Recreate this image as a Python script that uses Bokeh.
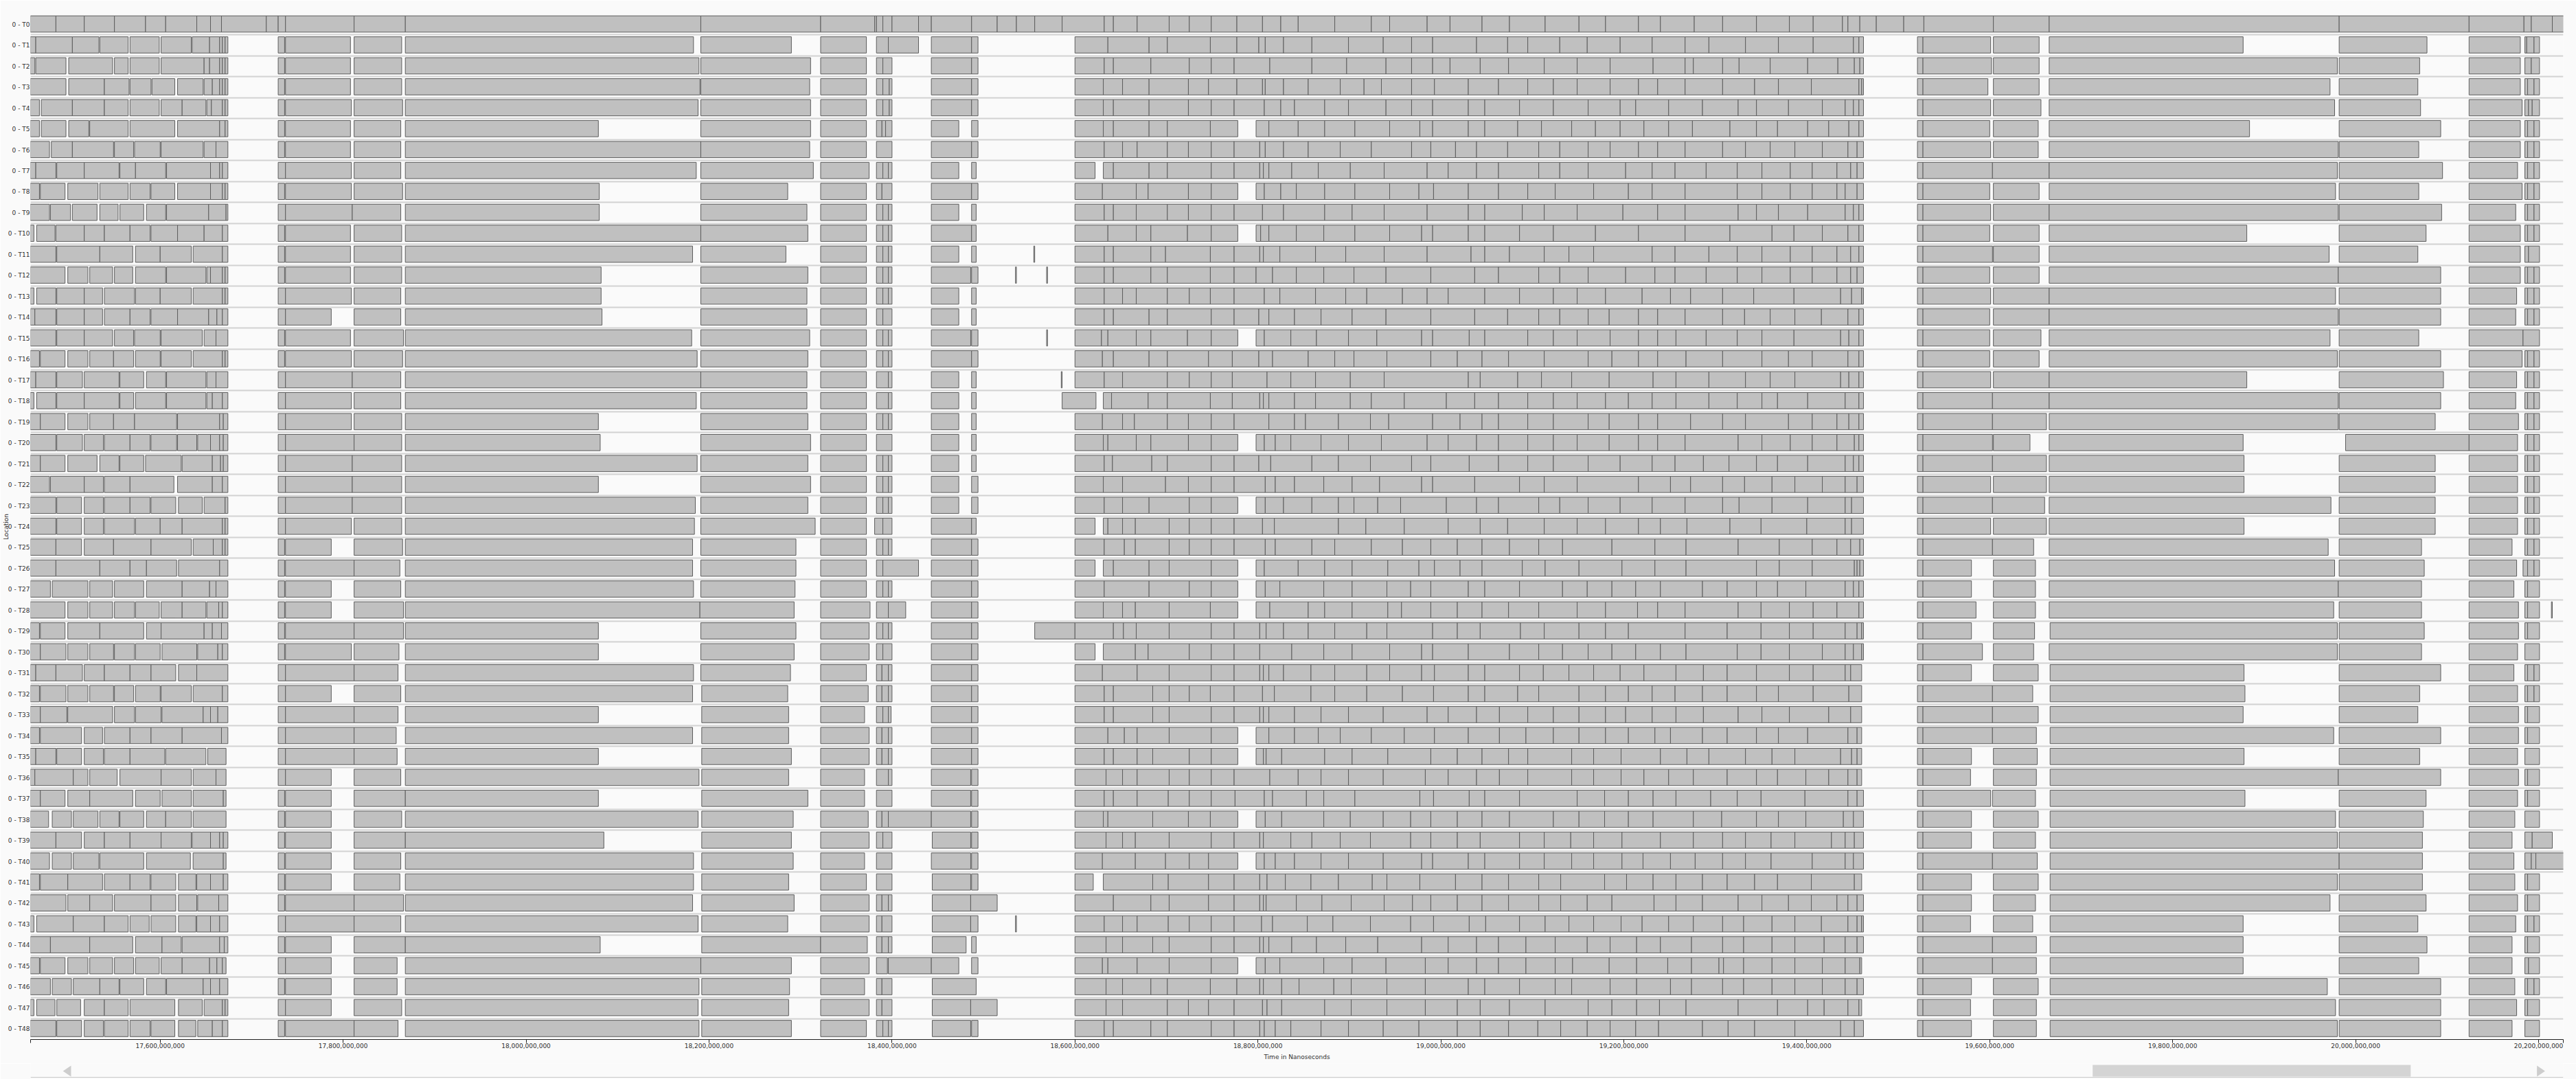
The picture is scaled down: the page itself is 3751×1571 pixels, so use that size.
from bokeh.plotting import figure
from bokeh.models import Range1d, FixedTicker, NumeralTickFormatter, ColumnDataSource
from bokeh.layouts import column
from bokeh.embed import file_html
from bokeh.resources import INLINE

# Each row: list of runs; each run is a list of boundaries (millions of ns);
# consecutive boundaries in a run form adjacent bars.
T0 = [[17458,17486,17517,17550,17584,17606,17640,17655,17667,17716,17729,17737,17812,17868,18191,18322,18381,18383,18390,18400,18429,18443,18487,18515,18536,18556,18586,18632,18642,18668,18703,18725,18749,18777,18805,18825,18844,18884,18924,18944,18985,19010,19045,19075,19114,19151,19180,19216,19240,19277,19308,19345,19381,19407,19439,19445,19458,19476,19506,19528,19604,19665,19982,20124,20184,20192,20215,20229]]
T1 = [[17458,17464,17504,17533],[17534,17565],[17567,17599],[17601,17634],[17635,17654,17665,17668,17671,17674],
 [17729,17736],[17737,17808],[17812,17864],[17868,18183],[18191,18290],[18322,18372],[18383,18396,18429],[18443,18487,18494],
 [18600,18636,18681,18701,18748,18777,18801,18808,18828,18859,18899,18937,18968,18991,19039,19073,19095,19130,19160,19196,19231,19267,19293,19333,19369,19407,19451,19457,19462],
 [19521,19527,19601],[19604,19654],[19665,19877],[19982,20078],[20124,20180],[20185,20187,20195,20201]]
T2 = [[17458,17463],[17464,17497],[17500,17548],[17550,17565],[17567,17599],[17601,17648,17654,17665,17668,17671,17674],
 [17729,17736],[17737,17808],[17812,17864],[17868,18189],[18191,18311],[18322,18372],[18383,18390,18400],[18443,18487,18494],
 [18600,18632,18642,18683,18725,18749,18774,18813,18859,18897,18940,18968,18991,19010,19043,19074,19113,19149,19185,19232,19267,19276,19308,19326,19360,19401,19434,19452,19458,19462],
 [19521,19527,19602],[19604,19654],[19665,19980],[19982,20070],[20124,20180],[20185,20192,20201]]
T3 = [[17458,17497],[17500,17539,17566],[17567,17590],[17591,17616],[17619,17647],[17648,17657,17665,17668,17671,17674],
 [17729,17736],[17737,17808],[17812,17864],[17868,18190],[18191,18310],[18322,18372],[18383,18390,18397,18400],[18443,18487,18494],
 [18600,18631,18652,18681,18724,18746,18777,18805,18808,18828,18855,18890,18916,18935,18968,18993,19030,19063,19095,19123,19149,19185,19216,19237,19267,19308,19343,19369,19405,19457,19460,19462],
 [19521,19527,19598],[19604,19654],[19665,19972],[19982,20068],[20124,20180],[20185,20188,20195,20201]]
T4 = [[17458,17468],[17470,17504,17539,17565],[17567,17599],[17601,17624,17650],[17651,17656,17668,17671,17674],
 [17729,17736],[17737,17809],[17812,17865],[17868,18188],[18191,18311],[18322,18372],[18383,18390,18397,18400],[18443,18487,18494],
 [18600,18631,18642,18681,18724,18749,18774,18807,18825,18840,18873,18899,18940,18968,18991,19030,19048,19086,19123,19161,19196,19213,19249,19286,19325,19345,19380,19417,19442,19451,19457,19462],
 [19521,19527,19601],[19604,19656],[19665,19977],[19982,20071],[20124,20182],[20185,20189,20193,20201]]
T5 = [[17458,17468],[17470,17497],[17500,17522],[17523,17565],[17567,17616],[17619,17665,17671,17674],
 [17729,17736],[17737,17808],[17812,17863],[17868,18079],[18191,18311],[18322,18372],[18383,18389,18393,18400],[18443,18473],[18487,18494],
 [18600,18631,18642,18681,18701,18748,18778],
 [18798,18812,18844,18873,18906,18944,18977,18991,19030,19048,19084,19110,19143,19169,19196,19222,19249,19275,19316,19345,19368,19401,19424,19446,19457,19462],
 [19521,19527,19600],[19604,19653],[19665,19884],[19982,20093],[20124,20180],[20185,20188,20195,20201]]
T6 = [[17458,17479],[17481,17504,17549],[17550,17571],[17572,17600],[17601,17647],[17648,17661,17674],
 [17729,17736],[17737,17808],[17812,17863],[17868,18191,18310],[18322,18372],[18383,18400],[18443,18487,18494],
 [18600,18632,18652,18668,18701,18724,18749,18774,18802,18808,18828,18855,18890,18924,18968,18989,19016,19039,19073,19107,19130,19161,19185,19216,19237,19267,19308,19333,19360,19387,19417,19445,19455,19462],
 [19521,19527,19601],[19604,19653],[19665,19981],[19982,20069],[20124,20180],[20185,20188,20195,20201]]
T7 = [[17458,17464,17486],[17487,17517,17555],[17556,17573,17606],[17607,17655,17665,17668,17674],
 [17729,17737],[17737,17809],[17812,17863],[17868,18186],[18191,18314],[18322,18375],[18383,18390,18396,18400],[18443,18473],[18487,18492],
 [18600,18622],
 [18631,18642,18681,18701,18749,18774,18802,18806,18812,18837,18866,18901,18938,18985,19008,19039,19063,19107,19130,19161,19202,19231,19256,19290,19324,19351,19382,19406,19433,19448,19455,19462],
 [19521,19527,19603,19665,19980],[19982,20095],[20124,20177],[20185,20188,20195,20201]]
T8 = [[17458,17468],[17469,17496],[17499,17532],[17534,17565],[17567,17589],[17590,17616],[17619,17655,17668,17671,17674],
 [17729,17736],[17737,17809],[17812,17865],[17868,18080],[18191,18286],[18322,18372],[18383,18389,18400],[18443,18487,18494],
 [18600,18630,18667,18680,18724,18749,18778],
 [18798,18807,18825,18842,18873,18906,18944,18976,18992,19030,19063,19095,19125,19167,19205,19231,19267,19324,19351,19382,19406,19433,19442,19455,19462],
 [19521,19527,19600],[19604,19654],[19665,19978],[19982,20069],[20124,20182],[20185,20188,20195,20201]]
T9 = [[17458,17479],[17480,17502],[17504,17531],[17534,17554],[17556,17582],[17585,17606],[17607,17653,17672,17674],
 [17729,17737],[17737,17810,17863],[17868,18080],[18191,18307],[18322,18372],[18383,18390,18396,18400],[18443,18473],[18487,18492],
 [18600,18632,18642,18667,18701,18724,18749,18774,18805,18828,18873,18903,18938,18985,19030,19048,19089,19113,19149,19199,19237,19267,19325,19345,19369,19401,19442,19451,19457,19462],
 [19521,19527,19601],[19604,19665,19981],[19982,20094],[20124,20175],[20185,20188,20195,20201]]
T10 = [[17458,17462],[17465,17485],[17486,17517,17539,17567,17589],[17590,17619,17648,17668,17674],
 [17729,17736],[17737,17808],[17812,17864],[17868,18191,18308],[18322,18372],[18383,18390,18396,18400],[18443,18487,18492],
 [18600,18636,18667,18683,18723,18749,18778],
 [18798,18803,18812,18842,18872,18906,18944,18979,18991,19030,19048,19086,19123,19169,19216,19267,19316,19362,19386,19417,19445,19457,19462],
 [19521,19527,19600],[19604,19654],[19665,19881],[19982,20077],[20124,20180],[20185,20188,20195,20201]]
T11 = [[17458,17486],[17487,17534,17570],[17573,17600,17634],[17636,17668,17674],
 [17729,17736],[17737,17808],[17812,17864],[17868,18182],[18191,18284],[18322,18372],[18383,18390,18396,18400],[18443,18473],[18487,18492],[18555,18556],
 [18600,18632,18642,18683,18699,18748,18774,18802,18806,18824,18863,18896,18938,18985,19033,19048,19075,19113,19140,19167,19231,19256,19293,19324,19351,19382,19406,19433,19448,19457,19462],
 [19521,19527,19603],[19604,19654],[19665,19971],[19982,20068],[20124,20180],[20185,20189,20201]]
T12 = [[17458,17496],[17499,17521],[17523,17548],[17550,17570],[17573,17606],[17607,17650],[17651,17655,17668,17671,17674],
 [17729,17736],[17737,17808],[17812,17864],[17868,18082],[18191,18308],[18322,18372],[18383,18390,18396,18400],[18443,18486],[18487,18494],[18535,18536],[18569,18570],
 [18600,18632,18642,18683,18701,18748,18774,18798,18816,18842,18872,18905,18940,18989,19037,19063,19107,19130,19161,19202,19234,19256,19290,19324,19351,19382,19406,19433,19448,19455,19462],
 [19521,19527,19600],[19604,19654],[19665,19981,20093],[20124,20180],[20185,20188,20195,20201]]
T13 = [[17458,17462],[17465,17486],[17487,17517,17537],[17539,17572],[17573,17600,17634],[17636,17668,17671,17674],
 [17729,17737],[17737,17809],[17812,17863],[17868,18082],[18191,18307],[18322,18372],[18383,18390,18396,18400],[18443,18473],[18487,18492],
 [18600,18632,18652,18667,18701,18725,18748,18774,18807,18824,18863,18896,18919,18958,18985,19008,19048,19086,19123,19149,19180,19220,19251,19273,19308,19342,19386,19437,19449,19460,19462],
 [19521,19527,19601],[19604,19665,19978],[19982,20093],[20124,20176],[20185,20188,20195,20201]]
T14 = [[17458,17463,17486],[17487,17517,17537],[17539,17567,17589],[17590,17619,17653,17662,17668,17674],
 [17729,17737],[17737,17787],[17812,17863],[17868,18083],[18191,18307],[18322,18372],[18383,18390,18400],[18443,18473],[18487,18492],
 [18600,18632,18642,18681,18701,18749,18774,18801,18812,18840,18869,18903,18940,18989,19037,19073,19107,19130,19161,19184,19216,19237,19267,19308,19332,19360,19387,19416,19445,19457,19462],
 [19521,19527,19600],[19604,19665,19981],[19982,20093],[20124,20175],[20185,20188,20195,20201]]
T15 = [[17458,17486],[17487,17517,17548],[17550,17571],[17572,17600],[17601,17646],[17648,17661,17674],
 [17729,17736],[17737,17808],[17812,17866],[17868,18181],[18191,18310],[18322,18372],[18383,18390,18396,18400],[18443,18486],[18487,18494],[18569,18570],
 [18600,18629,18636,18667,18683,18723,18749,18778],
 [18798,18807,18836,18864,18899,18930,18979,18991,19031,19048,19095,19123,19149,19185,19216,19237,19257,19290,19324,19351,19386,19437,19446,19457,19462],
 [19521,19527,19600],[19604,19656],[19665,19972],[19982,20069],[20124,20183,20201]]
T16 = [[17458,17468],[17469,17496],[17499,17521],[17523,17549,17571],[17573,17600],[17601,17634],[17636,17668,17671,17674],
 [17729,17736],[17737,17809],[17812,17865],[17868,18187],[18191,18308],[18322,18372],[18383,18390,18396,18400],[18443,18487,18494],
 [18600,18630,18642,18681,18701,18746,18772,18801,18816,18855,18884,18905,18941,18989,19018,19045,19074,19113,19161,19187,19216,19237,19268,19308,19351,19380,19406,19445,19457,19462],
 [19521,19527,19600],[19604,19654],[19665,19980],[19982,20093],[20124,20182],[20185,20188,20195,20201]]
T17 = [[17458,17464,17486],[17487,17515],[17517,17555],[17556,17582],[17585,17606],[17607,17650],[17651,17661,17674],
 [17729,17737],[17737,17810,17863],[17868,18191,18307],[18322,18372],[18383,18396,18400],[18443,18473],[18487,18492],[18585,18586],
 [18600,18632,18652,18701,18725,18749,18772,18810,18836,18863,18901,18938,19030,19043,19084,19110,19143,19184,19232,19257,19293,19333,19360,19387,19437,19446,19457,19462],
 [19521,19527,19601],[19604,19665,19881],[19982,20096],[20124,20176],[20185,20188,20195,20201]]
T18 = [[17458,17462],[17465,17486],[17487,17517,17555],[17556,17571],[17573,17606],[17607,17650],[17651,17657,17668,17674],
 [17729,17737],[17737,17809],[17812,17863],[17868,18186],[18191,18307],[18322,18372],[18383,18396,18400],[18443,18473],[18487,18492],
 [18586,18623],
 [18631,18640,18680,18701,18748,18772,18802,18806,18812,18840,18863,18901,18924,18960,19006,19037,19063,19095,19123,19149,19180,19205,19231,19257,19293,19324,19351,19368,19401,19442,19457,19462],
 [19521,19527,19603,19665,19981],[19982,20093],[20124,20175],[20185,20188,20195,20201]]
T19 = [[17458,17469,17496],[17499,17521],[17523,17549,17572,17618],[17619,17665,17669,17674],
 [17729,17737],[17737,17809],[17812,17864],[17868,18079],[18191,18308],[18322,18372],[18383,18390,18396,18400],[18443,18473],[18487,18492],
 [18600,18630,18652,18665,18701,18724,18749,18774,18812,18840,18852,18888,18923,18943,18991,19021,19045,19063,19095,19123,19161,19184,19216,19237,19273,19308,19333,19380,19406,19433,19446,19457,19462],
 [19521,19527,19603,19662],[19665,19981],[19982,20087],[20124,20178],[20185,20188,20195,20201]]
T20 = [[17458,17486],[17487,17515],[17517,17538],[17539,17567,17589],[17590,17618],[17619,17640],[17641,17655,17665,17669,17674],
 [17729,17737],[17737,17812,17864],[17868,18081],[18191,18311],[18322,18372],[18383,18400],[18443,18473],[18487,18492],
 [18600,18631,18636,18667,18683,18724,18749,18778],
 [18798,18807,18819,18836,18869,18899,18935,18985,19008,19039,19063,19095,19123,19149,19184,19216,19237,19267,19325,19351,19382,19406,19433,19452,19457,19462],
 [19521,19527,19603],[19604,19644],[19665,19877],[19989,20124,20177],[20185,20188,20195,20201]]
T21 = [[17458,17469,17496],[17499,17531],[17534,17555],[17556,17582],[17584,17623],[17624,17657,17666,17669,17674],
 [17729,17737],[17737,17810,17864],[17868,18187],[18191,18308],[18322,18372],[18383,18390,18396,18400],[18443,18473],[18487,18492],
 [18600,18632,18641,18684,18701,18749,18774,18801,18814,18859,18888,18923,18968,18989,19031,19063,19095,19123,19161,19196,19231,19256,19287,19315,19345,19368,19401,19442,19451,19457,19462],
 [19521,19527,19603,19662],[19665,19878],[19982,20087],[20124,20177],[20185,20188,20195,20201]]
T22 = [[17458,17479],[17480,17517,17538],[17539,17567,17615],[17619,17657,17668,17674],
 [17729,17737],[17737,17810,17864],[17868,18079],[18191,18311],[18322,18372],[18383,18390,18396,18400],[18443,18473],[18487,18494],
 [18600,18631,18652,18699,18724,18749,18774,18808,18819,18840,18872,18903,18933,18979,18991,19037,19086,19113,19149,19216,19251,19273,19308,19332,19362,19387,19417,19442,19455,19462],
 [19521,19527,19601],[19604,19662],[19665,19878],[19982,20087],[20124,20177],[20185,20188,20195,20201]]
T23 = [[17458,17486],[17487,17514],[17517,17538],[17539,17567,17589],[17590,17617],[17620,17646],[17648,17671,17674],
 [17729,17737],[17737,17810,17864],[17868,18185],[18191,18308],[18322,18372],[18383,18390,18396,18400],[18443,18473],[18487,18494],
 [18600,18632,18652,18681,18725,18749,18778],
 [18798,18808,18828,18859,18888,18905,18931,18956,19006,19039,19063,19107,19130,19161,19196,19231,19267,19308,19326,19362,19401,19442,19449,19462],
 [19521,19527,19603,19660],[19665,19973],[19982,20087],[20124,20177],[20185,20188,20195,20201]]
T24 = [[17458,17486],[17487,17514],[17517,17538],[17539,17572],[17573,17600,17624,17668,17671,17674],
 [17729,17737],[17737,17809],[17812,17864],[17868,18184],[18191,18316],[18322,18372],[18381,18390,18400],[18443,18487,18492],
 [18600,18622],
 [18631,18636,18652,18666,18703,18725,18749,18774,18805,18818,18888,18918,18960,19008,19043,19073,19113,19149,19180,19216,19240,19269,19316,19350,19400,19442,19449,19462],
 [19521,19527,19601],[19604,19662],[19665,19878],[19982,20087],[20124,20177],[20185,20188,20195,20201]]
T25 = [[17458,17486,17514],[17517,17549,17590,17634],[17636,17658,17668,17671,17674],
 [17729,17736],[17737,17787],[17812,17865],[17868,18182],[18191,18295],[18322,18372],[18383,18390,18396,18400],[18443,18487,18494],
 [18600,18632,18654,18666,18703,18725,18749,18774,18808,18819,18859,18884,18924,18958,18989,19018,19045,19075,19107,19133,19187,19234,19268,19325,19370,19406,19433,19448,19458,19462],
 [19521,19527,19603,19648],[19665,19970],[19982,20072],[20124,20171],[20185,20188,20195,20201]]
T26 = [[17458,17486,17534,17567,17585,17618],[17620,17665,17674],
 [17729,17736],[17737,17812,17862],[17868,18182],[18191,18295],[18322,18372],[18383,18390,18429],[18443,18487,18494],
 [18600,18622],[18631,18642,18681,18703,18749,18778],
 [18798,18807,18844,18873,18903,18942,18976,18993,19021,19045,19089,19114,19151,19198,19234,19268,19345,19370,19406,19452,19455,19458,19462],
 [19521,19527,19580],[19604,19650],[19665,19977],[19982,20075],[20124,20176],[20183,20188,20195,20201]]
T27 = [[17458,17480],[17482,17521],[17523,17548],[17550,17582],[17585,17624,17654,17661,17674],
 [17729,17736],[17737,17787],[17812,17863],[17868,18183],[18191,18294],[18322,18372],[18383,18390,18396,18400],[18443,18487,18494],
 [18600,18632,18681,18725,18749,18778],
 [18798,18808,18824,18872,18903,18941,18967,18989,19030,19048,19086,19133,19160,19187,19213,19240,19286,19313,19345,19368,19399,19442,19451,19457,19462],
 [19521,19527,19580],[19604,19650],[19665,19981,20072],[20124,20173],[20185,20188,20201]]
T28 = [[17458,17496],[17499,17521],[17523,17548],[17550,17572],[17573,17599],[17601,17624,17650],[17651,17664,17668,17674],
 [17729,17736],[17737,17787],[17812,17866],[17868,18190,18293],[18322,18376],[18383,18396,18415],[18443,18487,18494],
 [18600,18631,18652,18666,18703,18748,18778],
 [18798,18813,18855,18873,18903,18942,18957,18989,19018,19045,19074,19107,19149,19180,19215,19237,19267,19325,19350,19381,19407,19433,19457,19462],
 [19521,19527,19585],[19604,19650],[19665,19976],[19982,20072],[20124,20178],[20185,20188,20201],[20214,20215]]
T29 = [[17458,17468],[17469,17496],[17499,17534,17582],[17585,17601,17648,17657,17667,17674],
 [17729,17736],[17737,17812,17866],[17868,18079],[18191,18295],[18322,18375],[18383,18390,18396,18400],[18443,18487,18494],
 [18556,18600,18642,18653,18667,18703,18749,18774,18802,18809,18828,18855,18884,18919,18941,18991,19018,19043,19087,19113,19151,19180,19205,19267,19313,19350,19381,19407,19442,19455,19460,19462],
 [19521,19527,19580],[19604,19649],[19666,19980],[19982,20075],[20124,20178],[20185,20188,20201]]
T30 = [[17458,17469,17497],[17499,17521],[17523,17549],[17550,17572],[17573,17600],[17602,17640],[17641,17663,17668,17674],
 [17729,17736],[17737,17809],[17812,17861],[17868,18079],[18191,18293],[18322,18375],[18383,18390,18400],[18443,18487,18494],
 [18600,18622],
 [18631,18666,18680,18725,18749,18774,18802,18837,18872,18903,18944,18979,18991,19030,19075,19107,19133,19161,19187,19213,19240,19268,19324,19350,19381,19417,19442,19451,19460,19462],
 [19521,19527,19592],[19604,19648],[19665,19980],[19982,20072],[20124,20177],[20185,20201]]
T31 = [[17458,17464,17486,17515],[17517,17539,17567,17590,17617],[17620,17640,17674],
 [17729,17737],[17737,17812,17860],[17868,18183],[18191,18289],[18322,18372],[18383,18389,18396,18400],[18443,18487,18494],
 [18600,18630,18668,18703,18749,18774,18802,18806,18812,18828,18858,18884,18919,18944,18979,18993,19030,19048,19086,19112,19140,19167,19196,19222,19257,19287,19313,19345,19381,19407,19442,19448,19460],
 [19521,19527,19580],[19604,19653],[19666,19878],[19982,20093],[20124,20173],[20185,20188,20195,20201]]
T32 = [[17458,17468],[17469,17497],[17499,17521],[17523,17549],[17550,17571],[17573,17600],[17601,17634],[17636,17668,17674],
 [17729,17737],[17737,17787],[17812,17863],[17868,18182],[18192,18286],[18322,18374],[18383,18389,18396,18400],[18443,18487,18494],
 [18600,18632,18642,18685,18703,18725,18748,18774,18805,18818,18858,18884,18919,18958,18992,19030,19048,19084,19107,19151,19180,19205,19231,19256,19286,19313,19345,19369,19407,19446,19460],
 [19521,19527,19603,19647],[19666,19879],[19982,20070],[20124,20177],[20185,20188,20195,20201]]
T33 = [[17458,17469,17498],[17499,17548],[17550,17572],[17573,17601],[17602,17647,17655,17663,17674],
 [17729,17737],[17737,17812,17860],[17868,18079],[18192,18287],[18322,18370],[18383,18390,18396,18399],[18443,18487,18494],
 [18600,18632,18642,18685,18703,18749,18774,18802,18806,18812,18840,18869,18899,18937,18985,19008,19039,19064,19095,19123,19151,19180,19202,19231,19257,19287,19325,19351,19381,19424,19448,19460],
 [19521,19527,19603,19653],[19666,19877],[19982,20068],[20124,20178],[20185,20188,20201]]
T34 = [[17458,17468],[17469,17514],[17517,17537],[17539,17567,17590,17624,17667,17674],
 [17729,17737],[17737,17812,17858],[17868,18182],[18192,18287],[18322,18375],[18383,18389,18396,18400],[18443,18487,18494],
 [18600,18636,18654,18668,18703,18749,18778],
 [18798,18812,18840,18866,18890,18924,18960,18993,19030,19064,19093,19123,19151,19180,19205,19234,19251,19286,19313,19345,19369,19401,19445,19455,19460],
 [19521,19527,19603,19651],[19666,19976],[19982,20093],[20124,20178],[20185,20188,20201]]
T35 = [[17458,17464,17486],[17487,17514],[17517,17538],[17539,17567,17605],[17606,17650],[17652,17672],
 [17729,17737],[17737,17812,17859],[17868,18079],[18192,18290],[18322,18375],[18383,18389,18396,18400],[18443,18487,18494],
 [18600,18632,18642,18668,18685,18725,18749,18778],
 [18798,18806,18809,18826,18873,18903,18942,18989,19018,19045,19074,19095,19143,19167,19197,19240,19269,19293,19333,19362,19387,19437,19449,19455,19460],
 [19521,19527,19580],[19604,19652],[19666,19878],[19982,20070],[20124,20177],[20185,20201]]
T36 = [[17458,17463,17505,17521],[17523,17553],[17556,17601,17634],[17636,17661,17672],
 [17729,17737],[17737,17787],[17812,17863],[17868,18189],[18192,18287],[18322,18370],[18383,18396,18400],[18443,18486],[18487,18494],
 [18600,18634,18652,18668,18703,18725,18749,18774,18813,18844,18869,18899,18937,18983,19008,19039,19064,19095,19143,19167,19197,19222,19249,19276,19313,19345,19368,19399,19424,19445,19455,19460],
 [19521,19527,19579],[19604,19651],[19666,19981,20093],[20124,20178],[20185,20188,20201]]
T37 = [[17458,17469,17496],[17499,17523,17570],[17573,17600],[17602,17634],[17636,17669,17672],
 [17729,17736],[17737,17787],[17812,17868,18079],[18192,18308],[18322,18370],[18383,18400],[18443,18486],[18487,18494],
 [18600,18632,18642,18668,18702,18725,18749,18775,18807,18816,18853,18872,18906,18977,18992,19031,19048,19086,19149,19179,19205,19232,19257,19295,19324,19350,19398,19445,19455,19462],
 [19521,19527,19601],[19603,19650],[19666,19879],[19982,20077],[20124,20177],[20185,20188,20201]]
T38 = [[17458,17478],[17482,17503],[17505,17532],[17534,17555],[17556,17582],[17585,17606,17634],[17636,17672],
 [17729,17736],[17737,17787],[17812,17864],[17868,18188],[18192,18292],[18322,18374],[18383,18389,18396,18443,18486],[18487,18494],
 [18600,18631,18636,18685,18724,18748,18778],
 [18798,18808,18826,18872,18901,18937,18967,18989,19018,19045,19075,19123,19151,19179,19205,19232,19276,19307,19345,19369,19399,19440,19451,19462],
 [19521,19527,19580],[19604,19653],[19666,19978],[19982,20074],[20124,20174],[20185,20201]]
T39 = [[17458,17486,17514],[17517,17539,17567,17601,17634],[17635,17655,17665,17669,17674],
 [17729,17736],[17737,17787],[17812,17868,18085],[18192,18290],[18322,18375],[18383,18390,18400],[18444,18486],[18487,18494],
 [18600,18634,18652,18666,18703,18749,18774,18802,18806,18836,18859,18890,18923,18967,18989,19018,19043,19086,19113,19142,19167,19198,19240,19276,19308,19333,19361,19387,19427,19442,19452,19462],
 [19521,19527,19580],[19604,19650],[19666,19980],[19982,20073],[20124,20171],[20185,20193,20215]]
T40 = [[17458,17479],[17482,17503],[17505,17533],[17534,17582],[17585,17633],[17636,17669,17672],
 [17729,17736],[17737,17787],[17812,17863],[17868,18183],[18192,18292],[18322,18370],[18383,18400],[18443,18486],[18487,18494],
 [18600,18630,18666,18699,18725,18746,18778],
 [18798,18807,18819,18840,18869,18899,18937,18979,18991,19030,19048,19086,19113,19143,19167,19198,19221,19251,19278,19308,19333,19361,19406,19442,19451,19462],
 [19521,19527,19603,19652],[19666,19982,20073],[20124,20173],[20185,20192,20197,20229]]
T41 = [[17458,17468],[17469,17499,17537],[17539,17567,17589],[17590,17617],[17620,17639],[17640,17655,17669,17674],
 [17729,17736],[17737,17787],[17812,17862],[17868,18183],[18192,18287],[18322,18372],[18383,18400],[18444,18486],[18487,18494],
 [18600,18620],
 [18631,18685,18702,18746,18774,18802,18810,18830,18858,18888,18925,18941,18977,19016,19045,19074,19107,19131,19179,19203,19232,19257,19286,19313,19343,19368,19405,19452,19460],
 [19521,19527,19580],[19604,19653],[19666,19980],[19982,20073],[20124,20174],[20185,20188,20201]]
T42 = [[17458,17497],[17499,17523,17548],[17550,17590,17617],[17620,17640],[17641,17664,17674],
 [17729,17736],[17737,17812,17866],[17868,18182],[18192,18293],[18322,18375],[18383,18389,18396,18400],[18444,18486,18515],
 [18600,18642,18683,18703,18746,18774,18802,18806,18809,18842,18870,18902,18938,18969,18989,19018,19045,19074,19107,19131,19160,19187,19233,19257,19286,19325,19351,19380,19405,19433,19445,19455,19462],
 [19521,19527,19580],[19604,19650],[19666,19972],[19982,20077],[20124,20177],[20185,20188,20201]]
T43 = [[17458,17462],[17465,17505,17539,17565],[17567,17588],[17590,17617],[17620,17639],[17640,17655,17665,17674],
 [17729,17737],[17737,17812,17863],[17868,18188],[18192,18286],[18322,18375],[18383,18389,18400],[18444,18486,18494],[18535,18536],
 [18600,18632,18652,18668,18702,18725,18749,18774,18804,18816,18854,18882,18923,18967,18992,19031,19049,19086,19114,19140,19167,19197,19220,19249,19276,19308,19331,19362,19387,19416,19445,19455,19460,19462],
 [19521,19527,19579],[19604,19647],[19666,19877],[19982,20068],[20124,20175],[20185,20188,20195,20201]]
T44 = [[17458,17480,17523,17570],[17573,17602,17623],[17624,17665,17670,17674],
 [17729,17736],[17737,17787],[17812,17868,18081],[18192,18322,18373],[18383,18389,18396,18400],[18444,18481],[18487,18492],
 [18600,18634,18652,18685,18703,18749,18774,18802,18806,18812,18837,18864,18896,18931,18979,19008,19039,19063,19093,19125,19160,19185,19214,19240,19274,19308,19331,19362,19387,19419,19442,19455,19462],
 [19521,19527,19603,19651],[19666,19877],[19982,20078],[20124,20171],[20185,20188,20201]]
T45 = [[17458,17468],[17469,17496],[17499,17521],[17523,17548],[17550,17571],[17573,17599],[17601,17624,17654,17662,17668,17672],
 [17729,17737],[17737,17787],[17812,17859],[17868,18191,18290],[18322,18375],[18383,18395],[18396,18443,18473],[18487,18494],
 [18600,18630,18636,18668,18703,18749,18778],
 [18798,18808,18824,18872,18903,18940,18983,19008,19039,19063,19093,19125,19144,19184,19214,19248,19274,19304,19309,19331,19362,19387,19417,19442,19458,19460],
 [19521,19527,19603,19651],[19666,19877],[19982,20069],[20124,20171],[20185,20189,20201]]
T46 = [[17458,17480],[17482,17503],[17505,17534,17555],[17556,17582],[17585,17606],[17607,17647,17655,17665,17674],
 [17729,17736],[17737,17787],[17812,17859],[17868,18189],[18192,18288],[18322,18370],[18383,18389,18400],[18444,18492],
 [18600,18634,18652,18683,18701,18748,18777,18802,18806,18826,18845,18883,18902,18941,18983,19030,19048,19086,19125,19143,19185,19214,19251,19274,19308,19331,19362,19387,19417,19442,19455,19462],
 [19521,19527,19580],[19604,19653],[19666,19969],[19982,20093],[20124,20174],[20185,20188,20195,20201]]
T47 = [[17458,17462],[17465,17485],[17487,17513],[17517,17539,17565],[17567,17616],[17620,17646],[17648,17668,17671,17674],
 [17729,17737,17787],[17812,17864],[17868,18188],[18192,18287],[18322,18375],[18383,18389,18400],[18444,18486,18515],
 [18600,18634,18652,18701,18724,18746,18774,18805,18810,18826,18873,18902,18941,18983,19018,19043,19075,19114,19161,19187,19214,19239,19268,19325,19368,19401,19419,19445,19457,19460],
 [19521,19527,19579],[19604,19651],[19666,19978],[19982,20093],[20124,20176],[20185,20188,20201]]
T48 = [[17458,17486],[17487,17514],[17517,17538],[17539,17565],[17567,17589],[17590,17616],[17620,17639],[17641,17657,17668,17674],
 [17729,17736],[17737,17812,17860],[17868,18189],[18192,18290],[18322,18372],[18383,18390,18396,18400],[18444,18486],[18487,18494],
 [18600,18632,18642,18683,18701,18749,18774,18802,18807,18819,18836,18869,18899,18937,18976,19018,19043,19074,19106,19131,19160,19185,19213,19238,19286,19314,19343,19387,19437,19452,19462],
 [19521,19527,19580],[19604,19651],[19666,19980],[19982,20093],[20124,20171],[20185,20201]]

ROWS = [T0, T1, T2, T3, T4, T5, T6, T7, T8, T9, T10, T11, T12, T13, T14, T15, T16,
        T17, T18, T19, T20, T21, T22, T23, T24, T25, T26, T27, T28, T29, T30, T31,
        T32, T33, T34, T35, T36, T37, T38, T39, T40, T41, T42, T43, T44, T45, T46,
        T47, T48]
ROW_LABELS = ["0 - T%d" % i for i in range(len(ROWS))]
X_TICKS_MNS = [17600, 17800, 18000, 18200, 18400, 18600, 18800, 19000,
               19200, 19400, 19600, 19800, 20000, 20200]
X_START_MNS = 17458.3
X_END_MNS = 20227.0
# horizontal scroll bar of the viewer (thumb covers the visible window)
SCROLL_THUMB = (3054, 3525)

MNS = 1e6
FONT = "DejaVu Sans"
BG = "#fafafa"

n = len(ROWS)
left, right, top, bottom = [], [], [], []
for i, runs in enumerate(ROWS):
    yc = n - 1 - i
    for run in runs:
        for a, b in zip(run[:-1], run[1:]):
            left.append(a * MNS)
            right.append(b * MNS)
            top.append(yc + 0.415)
            bottom.append(yc - 0.362)
src = ColumnDataSource(dict(left=left, right=right, top=top, bottom=bottom))

W, H_MAIN, H_SCROLL = 3751, 1548, 23
p = figure(width=W, height=H_MAIN, output_backend="svg", toolbar_location=None,
           x_range=Range1d(X_START_MNS * MNS, X_END_MNS * MNS),
           y_range=Range1d(-0.5, n - 0.5),
           min_border_left=40, min_border_right=19, min_border_top=20,
           min_border_bottom=35)
p.background_fill_color = BG
p.border_fill_color = BG
p.outline_line_color = None

p.quad(left="left", right="right", top="top", bottom="bottom", source=src,
       fill_color="#c0c0c0", line_color="#5e5e5e", line_width=1)

# x axis
x_start_tick = int(round(X_START_MNS * MNS)) + 100000
x_end_tick = int(round(X_END_MNS * MNS)) - 100000
xt = [x_start_tick] + [int(t * MNS) for t in X_TICKS_MNS] + [x_end_tick]
p.xaxis.ticker = FixedTicker(ticks=xt)
p.xaxis.formatter = NumeralTickFormatter(format="0,0")
p.xaxis.major_label_overrides = {x_start_tick: "", x_end_tick: ""}
p.xaxis.axis_label = "Time in Nanoseconds"
p.xaxis.axis_label_text_font = FONT
p.xaxis.axis_label_text_font_size = "9px"
p.xaxis.axis_label_text_font_style = "normal"
p.xaxis.axis_label_text_color = "#303030"
p.xaxis.axis_label_standoff = 5
p.xaxis.major_label_text_font = FONT
p.xaxis.major_label_text_font_size = "9px"
p.xaxis.major_label_text_color = "#303030"
p.xaxis.major_label_standoff = 0
p.xaxis.axis_line_color = "#202020"
p.xaxis.major_tick_line_color = "#202020"
p.xaxis.major_tick_out = 5
p.xaxis.major_tick_in = 0
p.xaxis.minor_tick_line_color = None

# y axis
p.yaxis.ticker = FixedTicker(ticks=list(range(n)))
p.yaxis.major_label_overrides = {n - 1 - i: lab for i, lab in enumerate(ROW_LABELS)}
p.yaxis.major_label_text_font = FONT
p.yaxis.major_label_text_font_size = "9px"
p.yaxis.major_label_text_color = "#303030"
p.yaxis.major_label_standoff = 1
p.yaxis.axis_line_color = None
p.yaxis.major_tick_line_color = None
p.yaxis.minor_tick_line_color = None
p.yaxis.major_tick_out = 0
p.yaxis.major_tick_in = 0
p.yaxis.axis_label = "Location"
p.yaxis.axis_label_text_font = FONT
p.yaxis.axis_label_text_font_size = "9px"
p.yaxis.axis_label_text_font_style = "normal"
p.yaxis.axis_label_text_color = "#303030"
p.yaxis.axis_label_standoff = -5

p.xgrid.grid_line_color = None
p.ygrid.ticker = FixedTicker(ticks=[k - 0.5 for k in range(n + 1)])
p.ygrid.grid_line_color = "#d2d2d2"
p.ygrid.grid_line_width = 2

# scroll bar strip
s = figure(width=W, height=H_SCROLL, output_backend="svg", toolbar_location=None,
           x_range=Range1d(0, W), y_range=Range1d(0, H_SCROLL),
           min_border=0)
s.background_fill_color = BG
s.border_fill_color = BG
s.outline_line_color = None
s.axis.visible = False
s.grid.grid_line_color = None
s.quad(left=[SCROLL_THUMB[0]], right=[SCROLL_THUMB[1]], bottom=[4], top=[21],
       fill_color="#d4d4d4", line_color=None)
s.patches(xs=[[48, 60, 60], [3724, 3712, 3712]], ys=[[12, 20, 4], [12, 20, 4]],
          fill_color="#cdcdcd", line_color=None)
s.segment(x0=[0], y0=[3], x1=[W], y1=[3], line_color="#c8c8c8", line_width=1)

layout = column(p, s, spacing=0)
layout.styles = {"margin": "0"}
open("out.html", "w").write(file_html(layout, INLINE))
